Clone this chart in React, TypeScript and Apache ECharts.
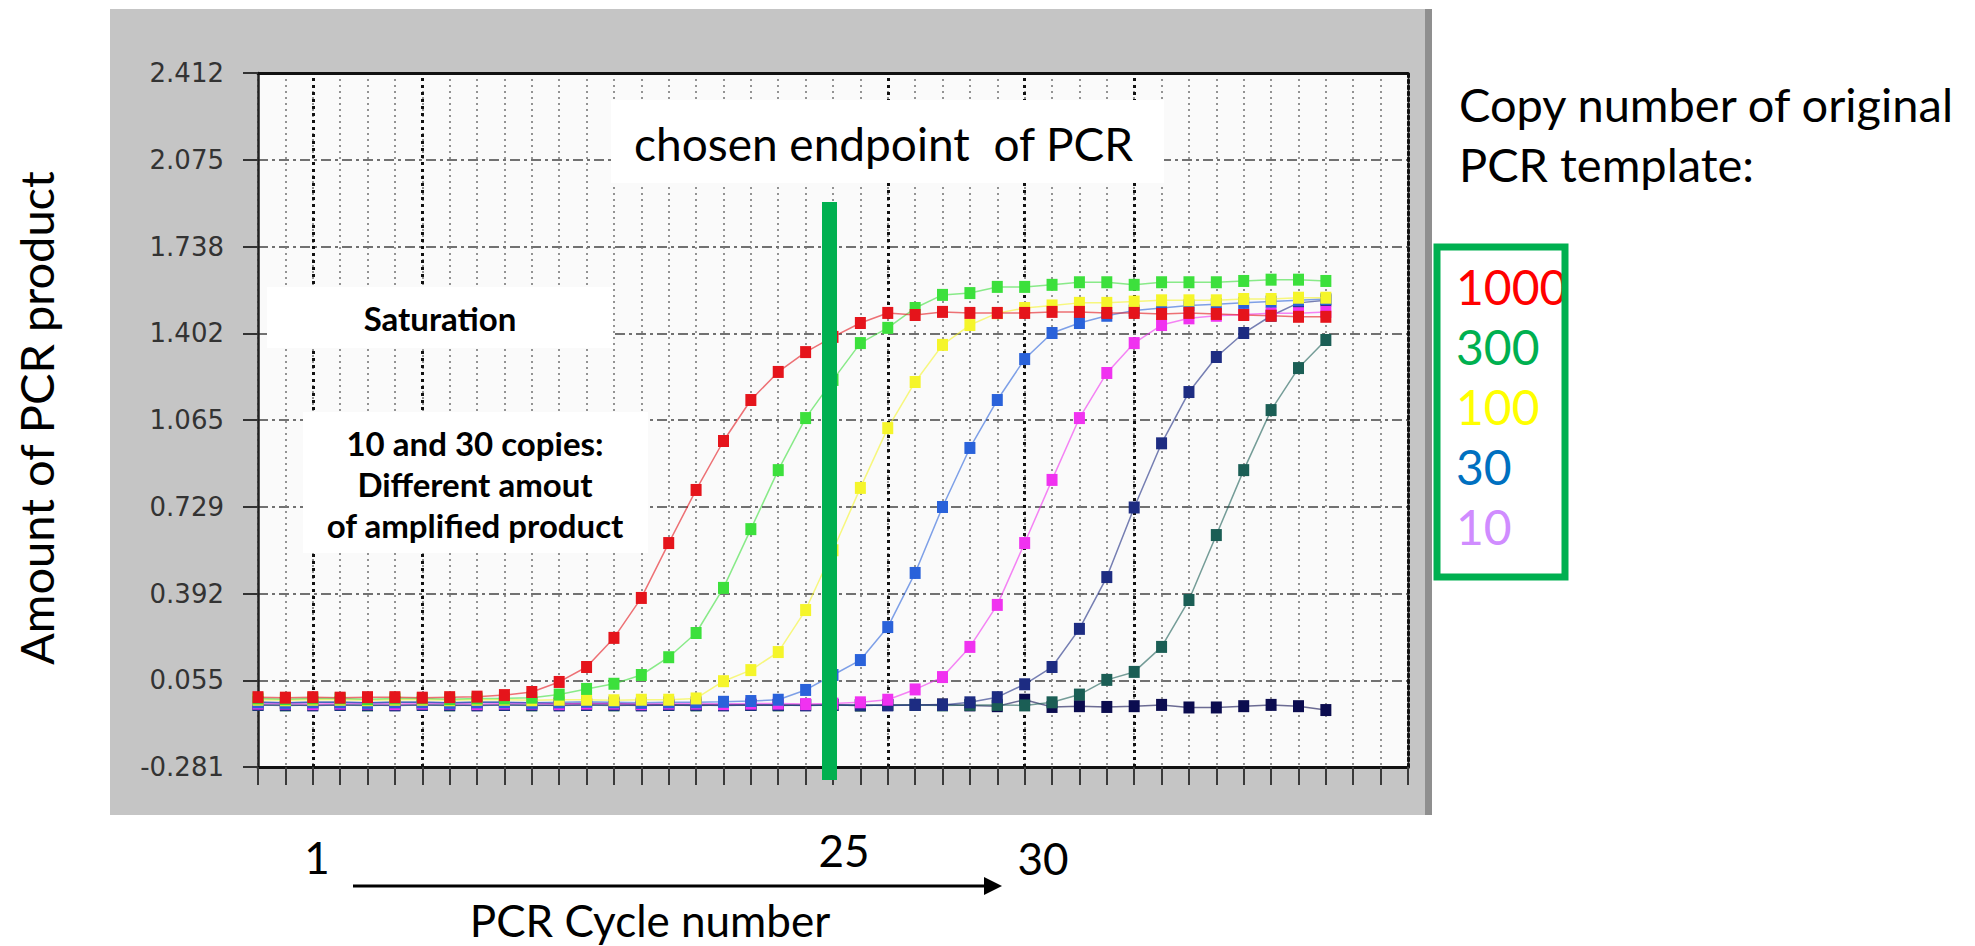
import React, { useEffect, useRef } from "react";
import * as echarts from "echarts";

// PCR cycle numbers (x values of every point)
const cycles = [
  1, 2, 3, 4, 5, 6, 7, 8, 9, 10, 11, 12, 13, 14, 15, 16, 17, 18, 19, 20,
  21, 22, 23, 24, 25, 26, 27, 28, 29, 30, 31, 32, 33, 34, 35, 36, 37, 38, 39, 40,
];

// y tick labels of the original instrument chart (bottom to top)
const yTickLabels = ["-0.281", "0.055", "0.392", "0.729", "1.065", "1.402", "1.738", "2.075", "2.412"];

// series values
const copies1000 = [
  -0.01, -0.012, -0.01, -0.012, -0.01, -0.01, -0.012, -0.01, -0.008, -0.002,
  0.01, 0.049, 0.107, 0.22, 0.375, 0.588, 0.794, 0.984, 1.143, 1.252,
  1.329, 1.388, 1.442, 1.481, 1.473, 1.485, 1.481, 1.481, 1.481, 1.485,
  1.485, 1.481, 1.481, 1.477, 1.481, 1.477, 1.473, 1.47, 1.466, 1.466,
];
const copies300 = [
  -0.015, -0.018, -0.015, -0.015, -0.018, -0.015, -0.015, -0.018, -0.015, -0.015,
  -0.012, 0.0, 0.022, 0.042, 0.076, 0.145, 0.239, 0.414, 0.642, 0.871,
  1.073, 1.221, 1.364, 1.423, 1.5, 1.551, 1.558, 1.582, 1.582, 1.59,
  1.6, 1.6, 1.59, 1.6, 1.6, 1.6, 1.605, 1.61, 1.61, 1.605,
];
const copies100 = [
  -0.02, -0.022, -0.02, -0.02, -0.022, -0.02, -0.02, -0.022, -0.02, -0.02,
  -0.022, -0.02, -0.02, -0.022, -0.02, -0.02, -0.015, 0.052, 0.095, 0.165,
  0.328, 0.56, 0.802, 1.034, 1.213, 1.357, 1.434, 1.48, 1.5, 1.51,
  1.52, 1.52, 1.525, 1.53, 1.53, 1.53, 1.535, 1.535, 1.54, 1.54,
];
const copies30 = [
  -0.03, -0.032, -0.03, -0.03, -0.032, -0.03, -0.03, -0.032, -0.03, -0.03,
  -0.032, -0.03, -0.028, -0.03, -0.032, -0.03, -0.03, -0.028, -0.025, -0.02,
  0.018, 0.076, 0.134, 0.262, 0.472, 0.728, 0.957, 1.143, 1.302, 1.403,
  1.442, 1.47, 1.49, 1.5, 1.51, 1.515, 1.52, 1.525, 1.53, 1.535,
];
const copies10 = [
  -0.035, -0.035, -0.037, -0.035, -0.035, -0.037, -0.035, -0.035, -0.037, -0.035,
  -0.035, -0.037, -0.035, -0.035, -0.037, -0.035, -0.035, -0.037, -0.035, -0.035,
  -0.037, -0.035, -0.03, -0.02, 0.02, 0.068, 0.185, 0.348, 0.588, 0.833,
  1.073, 1.248, 1.364, 1.434, 1.46, 1.47, 1.475, 1.48, 1.48, 1.485,
];
const copies3 = [
  -0.04, -0.04, -0.042, -0.04, -0.04, -0.042, -0.04, -0.04, -0.042, -0.04,
  -0.04, -0.042, -0.04, -0.04, -0.042, -0.04, -0.04, -0.042, -0.04, -0.04,
  -0.042, -0.04, -0.04, -0.042, -0.04, -0.04, -0.03, -0.01, 0.04, 0.107,
  0.255, 0.456, 0.726, 0.975, 1.174, 1.31, 1.403, 1.47, 1.52, 1.53,
];
const copies1 = [
  -0.04, -0.042, -0.04, -0.04, -0.042, -0.04, -0.04, -0.042, -0.04, -0.04,
  -0.042, -0.04, -0.04, -0.042, -0.04, -0.04, -0.042, -0.04, -0.04, -0.042,
  -0.04, -0.04, -0.042, -0.04, -0.04, -0.042, -0.04, -0.04, -0.042, -0.03,
  0.0, 0.057, 0.088, 0.185, 0.367, 0.619, 0.871, 1.104, 1.267, 1.376,
];
const noTemplate = [
  -0.03, -0.032, -0.03, -0.03, -0.032, -0.03, -0.03, -0.032, -0.03, -0.03,
  -0.032, -0.035, -0.035, -0.035, -0.038, -0.04, -0.04, -0.038, -0.04, -0.04,
  -0.04, -0.04, -0.042, -0.04, -0.04, -0.038, -0.042, -0.045, -0.02, -0.048,
  -0.045, -0.048, -0.045, -0.04, -0.05, -0.05, -0.045, -0.04, -0.045, -0.06,
];

// darker vertical grid lines of the scanned chart
const boldGridCycles = [3, 7, 24, 29, 33];

const legendNames = ["1000", "300", "100", "30", "10"];
const legendColors = ["#FF0000", "#00B050", "#FFFF00", "#0070C0", "#D08CFF"];

const xLabelTexts = ["1", "25", "30"];

const CAL = "Lato, 'Open Sans', sans-serif";

export default function App() {
  const ref = useRef<HTMLDivElement>(null);

  useEffect(() => {
    document.body.style.margin = "0";
    const chart = echarts.init(ref.current!, undefined, { renderer: "svg" });

    const mk = (name: string, values: number[], color: string, z: number, extra: any = {}) => ({
      type: "line",
      name,
      data: cycles.map((c, i) => [c, values[i]]),
      xAxisIndex: 0,
      yAxisIndex: 0,
      symbol: "rect",
      symbolSize: [11, 12],
      showSymbol: true,
      z,
      itemStyle: { color },
      lineStyle: { width: 1.5, color, opacity: 0.6 },
      emphasis: { disabled: true },
      ...extra,
    });

    const option: any = {
      animation: false,
      backgroundColor: "#ffffff",
      grid: {
        left: 258,
        top: 73,
        width: 1150,
        height: 694,
        show: true,
        backgroundColor: "#fafafa",
        borderWidth: 0,
      },
      legend: {
        orient: "vertical",
        left: 1446,
        top: 251,
        icon: "none",
        itemWidth: 0,
        itemHeight: 10,
        itemGap: 0,
        selectedMode: false,
        textStyle: { fontFamily: CAL, fontSize: 48, lineHeight: 60 },
        data: legendNames.map((n, i) => ({ name: n, textStyle: { color: legendColors[i] } })),
      },
      xAxis: [
        {
          type: "value",
          min: 1,
          max: 43,
          interval: 1,
          position: "bottom",
          axisLine: { show: true, onZero: false, lineStyle: { color: "#111", width: 3 } },
          axisTick: { show: true, length: 18, lineStyle: { color: "#3a3a3a", width: 2 } },
          axisLabel: { show: false },
          splitLine: { show: true, lineStyle: { color: "#7a7a7a", width: 1.6, type: [2, 4] } },
        },
        {
          type: "value",
          min: 1,
          max: 43,
          position: "top",
          axisLine: { show: true, onZero: false, lineStyle: { color: "#111", width: 3 } },
          axisTick: { show: false },
          axisLabel: { show: false },
          splitLine: { show: false },
        },
      ],
      yAxis: [
        {
          type: "value",
          min: -0.281,
          max: 2.412,
          show: false,
        },
        {
          type: "category",
          data: yTickLabels,
          boundaryGap: false,
          position: "left",
          axisLine: { show: true, onZero: false, lineStyle: { color: "#222", width: 2.5 } },
          axisTick: { show: true, length: 15, interval: 0, lineStyle: { color: "#333", width: 2 } },
          axisLabel: {
            interval: 0,
            margin: 34,
            fontFamily: "'DejaVu Sans', sans-serif",
            fontSize: 26,
            color: "#333",
          },
          splitLine: { show: true, interval: 0, lineStyle: { color: "#444", width: 1.6, type: [10, 4, 3, 4] } },
        },
        {
          type: "value",
          min: -0.281,
          max: 2.412,
          position: "right",
          axisLine: { show: true, onZero: false, lineStyle: { color: "#111", width: 3, type: [3, 3] } },
          axisTick: { show: false },
          axisLabel: { show: false },
          splitLine: { show: false },
        },
      ],
      series: [
        mk("NTC", noTemplate, "#0b0c4f", 2, {
          markLine: {
            silent: true,
            symbol: "none",
            label: { show: false },
            lineStyle: { color: "#111", width: 3, type: [3, 4] },
            data: boldGridCycles.map((c) => ({ xAxis: c })),
            z: 1,
          },
        }),
        mk("1", copies1, "#1b5e55", 3),
        mk("3", copies3, "#1d2c82", 4),
        mk("10", copies10, "#f032f0", 5),
        mk("30", copies30, "#2a62da", 6),
        mk("100", copies100, "#f5f52a", 7),
        mk("300", copies300, "#3ce03c", 8),
        mk("1000", copies1000, "#e5141b", 9),
      ],
      graphic: [
        // grey instrument panel
        { type: "rect", z: -10, silent: true, shape: { x: 110, y: 9, width: 1322, height: 806 }, style: { fill: "#c5c5c5" } },
        { type: "rect", z: -9, silent: true, shape: { x: 1425, y: 9, width: 7, height: 806 }, style: { fill: "#8f8f8f" } },
        // endpoint annotation
        { type: "rect", z: 100, shape: { x: 611, y: 100, width: 553, height: 83 }, style: { fill: "#ffffff" } },
        {
          type: "text", z: 101, x: 634, y: 143,
          style: { text: "chosen endpoint  of PCR", fontFamily: CAL, fontSize: 46, fill: "#000", textAlign: "left", textVerticalAlign: "middle" },
        },
        { type: "rect", z: 100, shape: { x: 822, y: 202, width: 15, height: 578 }, style: { fill: "#00B050" } },
        // saturation box
        { type: "rect", z: 100, shape: { x: 267, y: 287, width: 346, height: 61 }, style: { fill: "#ffffff" } },
        {
          type: "text", z: 101, x: 440, y: 318,
          style: { text: "Saturation", fontFamily: CAL, fontWeight: "bold", fontSize: 33, fill: "#000", textAlign: "center", textVerticalAlign: "middle" },
        },
        // copies box
        { type: "rect", z: 100, shape: { x: 303, y: 412, width: 345, height: 141 }, style: { fill: "#ffffff" } },
        {
          type: "text", z: 101, x: 475, y: 484,
          style: {
            text: "10 and 30 copies:\nDifferent amout\nof amplified product",
            fontFamily: CAL, fontWeight: "bold", fontSize: 33, lineHeight: 41,
            fill: "#000", textAlign: "center", textVerticalAlign: "middle",
          },
        },
        // y title
        {
          type: "text", z: 101, x: 36, y: 418, rotation: Math.PI / 2,
          style: { text: "Amount of PCR product", fontFamily: CAL, fontSize: 47, fill: "#000", textAlign: "center", textVerticalAlign: "middle" },
        },
        // x annotation
        {
          type: "text", z: 101, x: 317, y: 857,
          style: { text: xLabelTexts[0], fontFamily: CAL, fontSize: 44, fill: "#000", textAlign: "center", textVerticalAlign: "middle" },
        },
        {
          type: "text", z: 101, x: 844, y: 850,
          style: { text: xLabelTexts[1], fontFamily: CAL, fontSize: 44, fill: "#000", textAlign: "center", textVerticalAlign: "middle" },
        },
        {
          type: "text", z: 101, x: 1043, y: 858,
          style: { text: xLabelTexts[2], fontFamily: CAL, fontSize: 44, fill: "#000", textAlign: "center", textVerticalAlign: "middle" },
        },
        { type: "line", z: 101, shape: { x1: 353, y1: 886, x2: 988, y2: 886 }, style: { stroke: "#000", lineWidth: 3 } },
        { type: "polygon", z: 101, shape: { points: [[984, 877], [1002, 886], [984, 895]] }, style: { fill: "#000" } },
        {
          type: "text", z: 101, x: 650, y: 920,
          style: { text: "PCR Cycle number", fontFamily: CAL, fontSize: 44, fill: "#000", textAlign: "center", textVerticalAlign: "middle" },
        },
        // legend title + frame
        {
          type: "text", z: 101, x: 1459, y: 134,
          style: {
            text: "Copy number of original\nPCR template:",
            fontFamily: CAL, fontSize: 47, lineHeight: 60, fill: "#000", textAlign: "left", textVerticalAlign: "middle",
          },
        },
        { type: "rect", z: 101, shape: { x: 1437, y: 247, width: 128, height: 330 }, style: { fill: "none", stroke: "#00B050", lineWidth: 7 } },
      ],
    };

    chart.setOption(option);
    return () => chart.dispose();
  }, []);

  return (
    <div
      ref={ref}
      style={{ position: "absolute", left: 0, top: 0, width: 1975, height: 946, background: "#fff" }}
    />
  );
}
